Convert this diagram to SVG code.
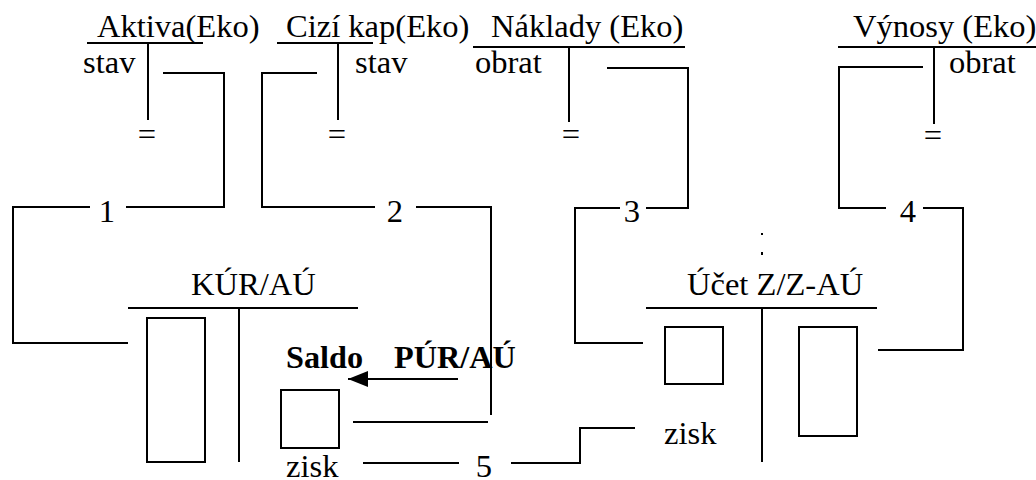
<svg xmlns="http://www.w3.org/2000/svg" width="1036" height="480" viewBox="0 0 1036 480">
<style>
  .ln { fill: none; stroke: #000; stroke-width: 2; }
  .bx { fill: #fff; stroke: #000; stroke-width: 2; }
  text { font-family: "Liberation Serif", "Times New Roman", serif; font-size: 31px; fill: #000; }
  .b { font-weight: bold; }
  .m { text-anchor: middle; }
</style>
<defs>
  <marker id="ah" viewBox="0 0 20 16" refX="20" refY="8" markerWidth="20" markerHeight="16" markerUnits="userSpaceOnUse" orient="auto">
    <path d="M0,0 L20,8 L0,16 Z" fill="#000"/>
  </marker>
</defs>
<rect width="1036" height="480" fill="#fff"/>

<g id="aktiva">
  <text transform="translate(97,37) scale(1.05,1)">Aktiva(Eko)</text>
  <path class="ln" d="M87,43 H203 M148,43 V120"/>
  <text transform="translate(83,73) scale(1.05,1)">stav</text>
  <text class="m" transform="translate(147,145) scale(1.05,1)">=</text>
</g>

<g id="cizi-kap">
  <text transform="translate(286,37) scale(1.05,1)">Cizí kap(Eko)</text>
  <path class="ln" d="M277,43 H373 M338,43 V120"/>
  <text transform="translate(355,73) scale(1.05,1)">stav</text>
  <text class="m" transform="translate(337,145) scale(1.05,1)">=</text>
</g>

<g id="naklady">
  <text transform="translate(491,37) scale(1.05,1)">Náklady (Eko)</text>
  <path class="ln" d="M473,47 H685 M569,47 V122"/>
  <text transform="translate(475,73) scale(1.05,1)">obrat</text>
  <text class="m" transform="translate(571,145) scale(1.05,1)">=</text>
</g>

<g id="vynosy">
  <text transform="translate(853,37) scale(1.05,1)">Výnosy (Eko)</text>
  <path class="ln" d="M838,47 H1036 M934,47 V124"/>
  <text transform="translate(949,73) scale(1.05,1)">obrat</text>
  <text class="m" transform="translate(933,146) scale(1.05,1)">=</text>
</g>

<g id="kur-au">
  <text transform="translate(191,295) scale(1.05,1)">KÚR/AÚ</text>
  <path class="ln" d="M128,308 H358 M239,308 V462"/>
  <rect class="bx" x="147" y="318" width="58" height="144"/>
  <rect class="bx" x="281" y="390" width="58" height="58"/>
  <text transform="translate(286,477) scale(1.05,1)">zisk</text>
</g>

<g id="pur-au">
  <text class="b" transform="translate(286,368) scale(1.04,1)">Saldo</text>
  <text class="b" transform="translate(394,368) scale(1.04,1)">PÚR/AÚ</text>
</g>

<g id="ucet-zz">
  <text transform="translate(687,295) scale(1.05,1)">Účet Z/Z-AÚ</text>
  <path class="ln" d="M646,308 H877 M762,308 V462"/>
  <rect class="bx" x="665" y="327" width="58" height="57"/>
  <rect class="bx" x="799" y="327" width="58" height="109"/>
  <text transform="translate(664,444) scale(1.05,1)">zisk</text>
  <rect x="761" y="233" width="2" height="2" fill="#000"/>
  <rect x="761" y="252" width="2" height="3" fill="#000"/>
</g>

<g id="connectors">
  <path class="ln" d="M163,73 H224 V207 H126 M90,207 H13 V343 H128"/>
  <text class="m" transform="translate(107,222) scale(1.05,1)">1</text>
  <path class="ln" d="M317,73 H262 V207 H375 M416,207 H491 V415 M353,422 H488"/>
  <text class="m" transform="translate(395,222) scale(1.05,1)">2</text>
  <path class="ln" d="M607,68 H688 V208 H646 M620,208 H575 V343 H643"/>
  <text class="m" transform="translate(632,222) scale(1.05,1)">3</text>
  <path class="ln" d="M923,67 H839 V208 H886 M923,208 H963 V350 H878"/>
  <text class="m" transform="translate(908,222) scale(1.05,1)">4</text>
  <path class="ln" d="M363,463 H459 M511,463 H580 V428 H635"/>
  <text class="m" transform="translate(484,477) scale(1.05,1)">5</text>
  <path class="ln" d="M458,379 H348" marker-end="url(#ah)"/>
</g>
</svg>
